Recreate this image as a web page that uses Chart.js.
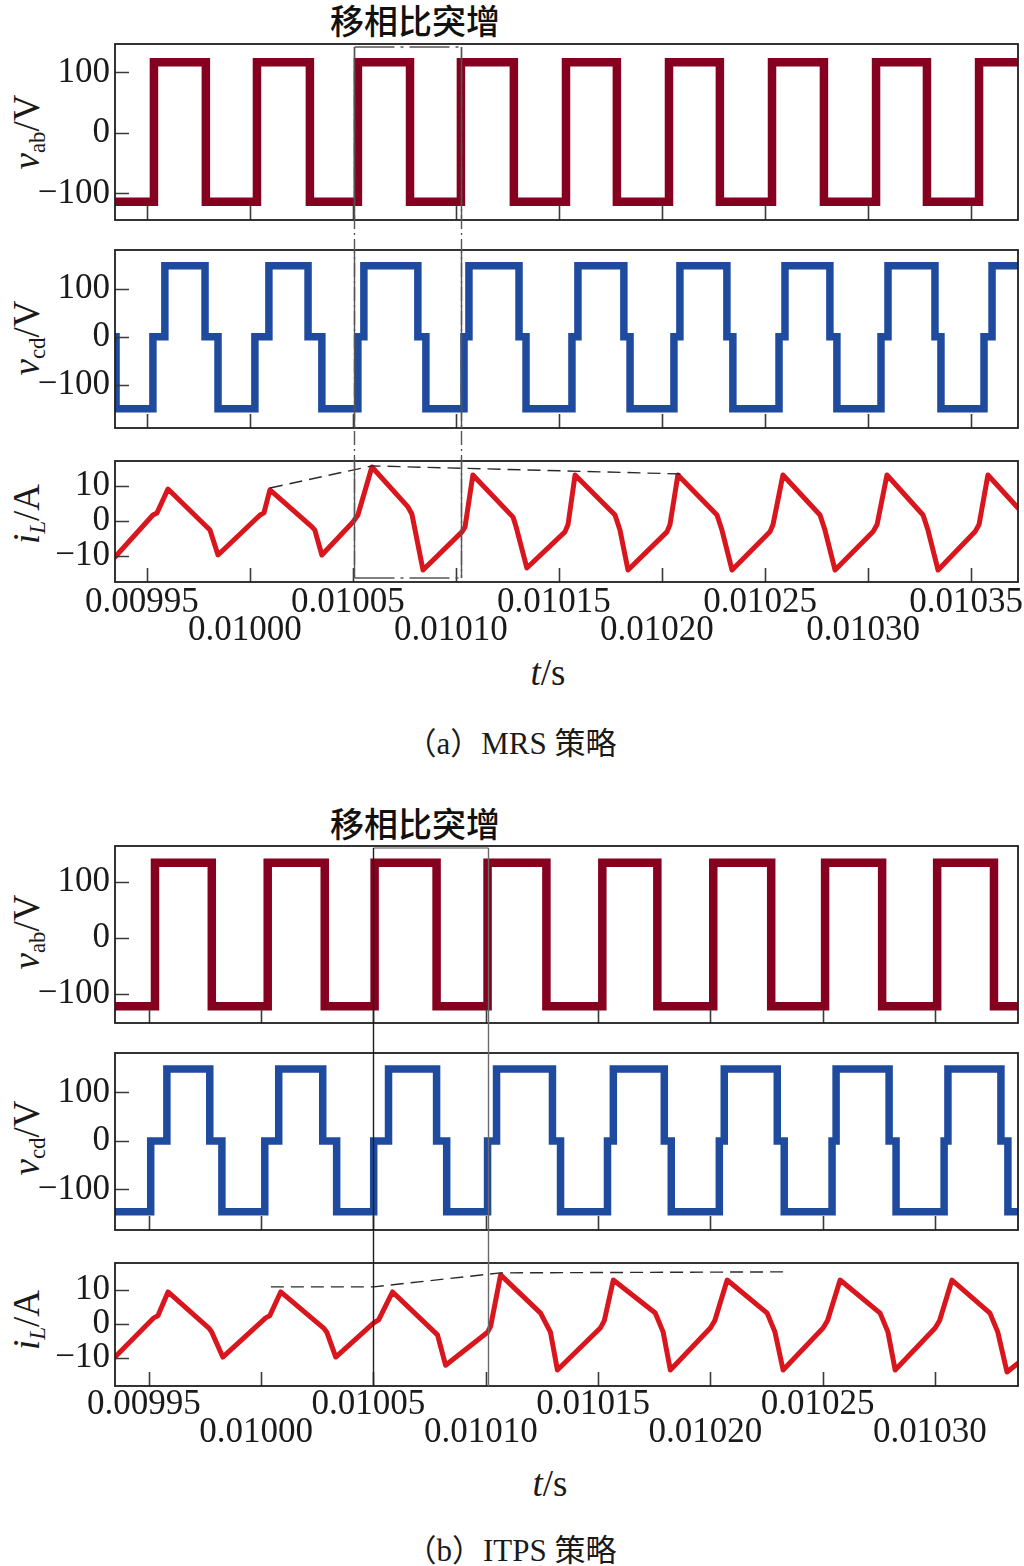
<!DOCTYPE html>
<html><head><meta charset="utf-8">
<script src="https://cdn.jsdelivr.net/npm/chart.js@4.4.1/dist/chart.umd.min.js"></script>
<style>
html,body{margin:0;padding:0;background:#fff;}
#wrap{position:relative;width:1024px;height:1566px;overflow:hidden;background:#fff;}
#wrap canvas{position:absolute;left:0;}
.t{position:absolute;white-space:nowrap;line-height:1;color:#1a1a1a;transform:translate(-50%,-50%);font-family:"Liberation Serif","Noto Sans CJK SC",serif;}
.ylab{transform:translate(-50%,-50%) rotate(-90deg);font-size:37px;}
.ylab sub{font-size:0.62em;vertical-align:-0.28em;line-height:0;}
.title{font-family:"Noto Sans CJK SC",sans-serif;font-size:34px;color:#111;font-weight:500;}
.xlab{font-size:37px;}
.cap{font-size:31px;}
</style></head>
<body><div id="wrap">
<div class="t title" style="left:415px;top:20px">移相比突增</div>
<div class="t ylab" style="left:26px;top:132px"><i>v</i><sub>ab</sub>/V</div>
<div class="t ylab" style="left:26px;top:338px"><i>v</i><sub>cd</sub>/V</div>
<div class="t ylab" style="left:26px;top:514px"><i>i</i><sub><i>L</i></sub>/A</div>
<div class="t xlab" style="left:548px;top:672px"><i>t</i>/s</div>
<div class="t cap" style="left:511px;top:743px">（a）MRS 策略</div>

<div class="t title" style="left:415px;top:823px">移相比突增</div>
<div class="t ylab" style="left:26px;top:932px"><i>v</i><sub>ab</sub>/V</div>
<div class="t ylab" style="left:26px;top:1138px"><i>v</i><sub>cd</sub>/V</div>
<div class="t ylab" style="left:26px;top:1320px"><i>i</i><sub><i>L</i></sub>/A</div>
<div class="t xlab" style="left:550px;top:1483px"><i>t</i>/s</div>
<div class="t cap" style="left:511px;top:1550px">（b）ITPS 策略</div>
</div>
<script>
// ===================== DATA (time in seconds) =====================
// x-axis ticks
const tickValsA = [0.00995, 0.01000, 0.01005, 0.01010, 0.01015, 0.01020, 0.01025, 0.01030, 0.01035];
const tickLabelsA = ['0.00995','0.01000','0.01005','0.01010','0.01015','0.01020','0.01025','0.01030','0.01035'];
const tickValsB = [0.00995, 0.01000, 0.01005, 0.01010, 0.01015, 0.01020, 0.01025, 0.01030];
const tickLabelsB = ['0.00995','0.01000','0.01005','0.01010','0.01015','0.01020','0.01025','0.01030'];
const tRangeA = [0.0099345, 0.0103728];
const tRangeB = [0.0099349, 0.0103370];
// y-axis ticks
const vTicks = [-100, 0, 100];
const iTicks = [-10, 0, 10];
const vabRangeA = [-144, 147], vcdRangeA = [-190, 181], iLRangeA = [-17.4, 17.1];
const vabRangeB = [-152, 164], vcdRangeB = [-183.5, 181], iLRangeB = [-18.2, 17.9];

// (a) MRS — step waveforms: level starts at given time
const vabA_t = [0.0099345, 0.0099534, 0.0099786, 0.0100034, 0.0100291, 0.0100524, 0.0100777, 0.0101024, 0.0101281, 0.0101534, 0.0101781, 0.0102034, 0.0102281, 0.0102534, 0.0102786, 0.0103039, 0.0103286, 0.0103539, 0.0103728];
const vabA_v = [-114, 117, -114, 117, -114, 117, -114, 117, -114, 117, -114, 117, -114, 117, -114, 117, -114, 117, 117];
const vcdA_t = [0.0099345, 0.0099350, 0.0099529, 0.0099587, 0.0099782, 0.0099845, 0.0100024, 0.0100092, 0.0100282, 0.0100349, 0.0100524, 0.0100553, 0.0100815, 0.0100854, 0.0101039, 0.0101063, 0.0101306, 0.0101340, 0.0101563, 0.0101592, 0.0101815, 0.0101845, 0.0102058, 0.0102087, 0.0102315, 0.0102344, 0.0102568, 0.0102597, 0.0102815, 0.0102849, 0.0103063, 0.0103097, 0.0103325, 0.0103354, 0.0103563, 0.0103602, 0.0103728];
const vcdA_v = [0, -150, 0, 148, 0, -150, 0, 148, 0, -150, 0, 148, 0, -150, 0, 148, 0, -150, 0, 148, 0, -150, 0, 148, 0, -150, 0, 148, 0, -150, 0, 148, 0, -150, 0, 148, 148];
const iLA_t = [0.0099345, 0.0099529, 0.0099549, 0.0099602, 0.0099791, 0.0099806, 0.0099845, 0.0100049, 0.0100068, 0.0100097, 0.0100301, 0.0100315, 0.0100349, 0.0100500, 0.0100524, 0.0100592, 0.0100767, 0.0100786, 0.0100840, 0.0101029, 0.0101044, 0.0101082, 0.0101277, 0.0101291, 0.0101344, 0.0101529, 0.0101544, 0.0101578, 0.0101772, 0.0101796, 0.0101835, 0.0102024, 0.0102039, 0.0102077, 0.0102267, 0.0102291, 0.0102340, 0.0102524, 0.0102539, 0.0102587, 0.0102767, 0.0102791, 0.0102840, 0.0103024, 0.0103044, 0.0103092, 0.0103267, 0.0103291, 0.0103340, 0.0103519, 0.0103539, 0.0103582, 0.0103728];
const iLA_v = [-10.3, 1.7, 2.3, 9.1, -1.7, -2.6, -9.7, 1.7, 2.3, 8.9, -1.7, -2.6, -9.7, -0.3, 1.7, 15.4, 4.0, 2.0, -14.0, -3.1, -1.7, 13.1, 1.1, -1.5, -13.4, -3.1, -1.0, 13.1, 1.7, -2.6, -14.0, -3.1, -1.0, 13.1, 1.7, -2.6, -14.0, -3.1, -1.0, 13.1, 1.7, -2.6, -14.0, -3.1, -1.0, 13.1, 1.7, -2.6, -14.0, -3.1, -1.0, 13.1, 3.7];
const envA_t = [0.0100097, 0.0100592, 0.0102097];
const envA_v = [9.4, 15.7, 13.4];
const boxA = [0.0100505, 0.0101024];

// (b) ITPS
const vabB_t = [0.0099349, 0.0099527, 0.0099780, 0.0100029, 0.0100283, 0.0100505, 0.0100781, 0.0101008, 0.0101270, 0.0101519, 0.0101764, 0.0102013, 0.0102271, 0.0102511, 0.0102765, 0.0103010, 0.0103263, 0.0103370];
const vabB_v = [-122, 134, -122, 134, -122, 134, -122, 134, -122, 134, -122, 134, -122, 134, -122, 134, -122, -122];
const vcdB_t = [0.0099349, 0.0099508, 0.0099580, 0.0099771, 0.0099825, 0.0100016, 0.0100078, 0.0100274, 0.0100336, 0.0100501, 0.0100567, 0.0100781, 0.0100826, 0.0101008, 0.0101048, 0.0101297, 0.0101333, 0.0101542, 0.0101568, 0.0101795, 0.0101826, 0.0102040, 0.0102062, 0.0102298, 0.0102329, 0.0102542, 0.0102560, 0.0102796, 0.0102827, 0.0103041, 0.0103058, 0.0103294, 0.0103325, 0.0103370];
const vcdB_v = [-146, 0, 148, 0, -146, 0, 148, 0, -146, 0, 148, 0, -146, 0, 148, 0, -146, 0, 148, 0, -146, 0, 148, 0, -146, 0, 148, 0, -146, 0, 148, 0, -146, -146];
const iLB_t = [0.0099349, 0.0099522, 0.0099540, 0.0099585, 0.0099767, 0.0099780, 0.0099829, 0.0100020, 0.0100038, 0.0100087, 0.0100278, 0.0100292, 0.0100332, 0.0100501, 0.0100523, 0.0100585, 0.0100785, 0.0100821, 0.0101008, 0.0101022, 0.0101066, 0.0101244, 0.0101288, 0.0101319, 0.0101510, 0.0101528, 0.0101568, 0.0101755, 0.0101790, 0.0101822, 0.0102000, 0.0102020, 0.0102075, 0.0102253, 0.0102288, 0.0102324, 0.0102502, 0.0102522, 0.0102578, 0.0102756, 0.0102791, 0.0102823, 0.0103001, 0.0103021, 0.0103076, 0.0103245, 0.0103280, 0.0103321, 0.0103370];
const iLB_v = [-9.7, 1.8, 2.4, 9.4, -1.2, -2.4, -9.7, 1.8, 2.4, 9.4, -1.2, -2.4, -9.7, 0.3, 1.2, 9.4, -3.2, -12.1, -2.4, -0.6, 14.4, 3.2, -2.4, -13.5, -1.2, 1.0, 12.9, 3.2, -2.4, -13.5, -1.2, 1.0, 12.9, 3.2, -2.4, -13.5, -1.2, 1.0, 12.9, 3.2, -2.4, -13.5, -1.2, 1.0, 12.9, 3.2, -2.4, -14.1, -11.5];
const envB_t = [0.0100043, 0.0100501, 0.0101066, 0.0102347];
const envB_v = [10.9, 10.9, 15.0, 15.3];
const boxB = [0.0100496, 0.0101012];

// ===================== LAYOUT / STYLE =====================
const PANEL_L = 115, PANEL_R = 1018, PAD_T = 25;
const C_VAB = '#86001f', C_VCD = '#1f4b9f', C_IL = '#d9161d';
const FONT = 'Liberation Serif';
Chart.defaults.font.family = FONT;

const pts = (t, v) => t.map((x, i) => ({x, y: v[i]}));
const fmtY = v => v < 0 ? '\u2212' + Math.abs(v) : String(v);

const framePlugin = {
  id: 'frame',
  afterDraw(chart) {
    const {ctx, chartArea: a, scales: {x, y}} = chart;
    ctx.save();
    ctx.strokeStyle = '#3a3a3a';
    ctx.lineWidth = 1.6;
    ctx.beginPath();
    x.ticks.forEach(t => {
      const px = Math.round(x.getPixelForValue(t.value)) + 0.5;
      ctx.moveTo(px, a.bottom); ctx.lineTo(px, a.bottom - 14);
    });
    y.ticks.forEach(t => {
      const py = Math.round(y.getPixelForValue(t.value)) + 0.5;
      ctx.moveTo(a.left, py); ctx.lineTo(a.left + 14, py);
    });
    ctx.stroke();
    ctx.strokeStyle = '#1e1e1e';
    ctx.lineWidth = 1.8;
    ctx.strokeRect(a.left, a.top, a.right - a.left, a.bottom - a.top);
    ctx.restore();
  }
};

const wrap = document.getElementById('wrap');

function makePanel(top, bottom, isBottom, xRange, xVals, xLabels, yRange, yVals, datasets, labelPad) {
  const extra = isBottom ? 95 : PAD_T;
  const cv = document.createElement('canvas');
  const h = (bottom - top) + PAD_T + extra;
  cv.width = 1024; cv.height = h;
  cv.style.width = '1024px'; cv.style.height = h + 'px';
  cv.style.top = (top - PAD_T) + 'px';
  wrap.appendChild(cv);
  const chart = new Chart(cv.getContext('2d'), {
    type: 'line',
    data: {datasets},
    options: {
      responsive: false, animation: false, devicePixelRatio: 1, events: [],
      layout: {padding: {top: PAD_T, left: 0, right: 1024 - PANEL_R, bottom: 0}},
      plugins: {legend: {display: false}, tooltip: {enabled: false}},
      elements: {point: {radius: 0}},
      scales: {
        x: {
          type: 'linear', position: 'bottom', min: xRange[0], max: xRange[1],
          grid: {display: false, drawTicks: false}, border: {display: false},
          ticks: {
            display: isBottom, autoSkip: false, maxRotation: 0, minRotation: 0,
            padding: labelPad, labelOffset: -5, color: '#1a1a1a',
            font: {family: FONT, size: 35, lineHeight: '28px'},
            callback: (v, i) => i % 2 === 0 ? [xLabels[i], ''] : ['', xLabels[i]]
          },
          afterBuildTicks: s => { s.ticks = xVals.map(v => ({value: v})); },
          afterFit: s => { s.height = extra; s.paddingLeft = 0; s.paddingRight = 0; }
        },
        y: {
          type: 'linear', position: 'left', min: yRange[0], max: yRange[1],
          grid: {display: false, drawTicks: false}, border: {display: false},
          ticks: {padding: 5, color: '#1a1a1a', font: {family: FONT, size: 35}, callback: v => fmtY(v)},
          afterBuildTicks: s => { s.ticks = yVals.map(v => ({value: v})); },
          afterFit: s => { s.width = PANEL_L; s.paddingTop = 0; s.paddingBottom = 0; }
        }
      }
    },
    plugins: [framePlugin]
  });
  return chart;
}

function stepDs(t, v, color, w) {
  return {data: pts(t, v), borderColor: color, borderWidth: w, stepped: 'before',
          borderJoinStyle: 'miter', borderCapStyle: 'butt', fill: false, tension: 0};
}
function lineDs(t, v, color, w) {
  return {data: pts(t, v), borderColor: color, borderWidth: w, borderJoinStyle: 'round',
          borderCapStyle: 'round', fill: false, tension: 0};
}
function envDs(t, v) {
  return {data: pts(t, v), borderColor: '#2a2a2a', borderWidth: 1.4, borderDash: [13, 7],
          fill: false, tension: 0};
}

// ---- figure (a) ----
const aVab = makePanel(44, 220, false, tRangeA, tickValsA, tickLabelsA, vabRangeA, vTicks,
  [stepDs(vabA_t, vabA_v, C_VAB, 8.5)], 7);
const aVcd = makePanel(250, 428, false, tRangeA, tickValsA, tickLabelsA, vcdRangeA, vTicks,
  [stepDs(vcdA_t, vcdA_v, C_VCD, 7.5)], 7);
const aIL = makePanel(461, 582, true, tRangeA, tickValsA, tickLabelsA, iLRangeA, iTicks,
  [envDs(envA_t, envA_v), lineDs(iLA_t, iLA_v, C_IL, 5)], 7);

// ---- figure (b) ----
const bVab = makePanel(846, 1023, false, tRangeB, tickValsB, tickLabelsB, vabRangeB, vTicks,
  [stepDs(vabB_t, vabB_v, C_VAB, 8.5)], 5);
const bVcd = makePanel(1053, 1230, false, tRangeB, tickValsB, tickLabelsB, vcdRangeB, vTicks,
  [stepDs(vcdB_t, vcdB_v, C_VCD, 7.5)], 5);
const bIL = makePanel(1263, 1386, true, tRangeB, tickValsB, tickLabelsB, iLRangeB, iTicks,
  [envDs(envB_t, envB_v), lineDs(iLB_t, iLB_v, C_IL, 5)], 5);

// ---- overlay: highlight boxes ----
const ov = document.createElement('canvas');
ov.width = 1024; ov.height = 1566;
ov.style.top = '0px'; ov.style.width = '1024px'; ov.style.height = '1566px';
wrap.appendChild(ov);
const octx = ov.getContext('2d');

function pageArea(ch) {
  const off = parseFloat(ch.canvas.style.top);
  return {top: off + ch.chartArea.top, bottom: off + ch.chartArea.bottom};
}
function seg(ctx, x1, y1, x2, y2) { ctx.beginPath(); ctx.moveTo(x1, y1); ctx.lineTo(x2, y2); ctx.stroke(); }

function drawBoxA(charts, box) {
  const [cv] = charts;
  const xL = Math.round(cv.scales.x.getPixelForValue(box[0])) + 0.5;
  const xR = Math.round(cv.scales.x.getPixelForValue(box[1])) + 0.5;
  const areas = charts.map(pageArea);
  const yT = areas[0].top + 3, yB = areas[2].bottom - 4;
  octx.save();
  octx.strokeStyle = '#555'; octx.lineWidth = 1.4;
  octx.setLineDash([14, 4, 2, 4]);
  seg(octx, xL, yT, xL, yB); seg(octx, xR, yT, xR, yB);
  octx.setLineDash([40, 6, 3, 6]);
  seg(octx, xL, yT, xR, yT); seg(octx, xL, yB, xR, yB);
  octx.setLineDash([]);
  areas.forEach((a, i) => {
    const t = i === 0 ? yT : a.top, b = i === 2 ? yB : a.bottom;
    seg(octx, xL, t, xL, b); seg(octx, xR, t, xR, b);
  });
  octx.restore();
}
function drawBoxB(charts, box) {
  const [cv] = charts;
  const xL = Math.round(cv.scales.x.getPixelForValue(box[0])) + 0.5;
  const xR = Math.round(cv.scales.x.getPixelForValue(box[1])) + 0.5;
  const areas = charts.map(pageArea);
  const yT = areas[0].top + 2, yB = areas[2].bottom;
  octx.save();
  octx.lineWidth = 1.4;
  octx.strokeStyle = '#8a8a8a';
  seg(octx, xL, yT, xR, yT);
  octx.strokeStyle = '#1e1e1e';
  seg(octx, xL, yT, xL, yB);
  octx.strokeStyle = '#6a6a6a';
  seg(octx, xR, yT, xR, yB);
  octx.restore();
}
drawBoxA([aVab, aVcd, aIL], boxA);
drawBoxB([bVab, bVcd, bIL], boxB);
</script>
</body></html>
